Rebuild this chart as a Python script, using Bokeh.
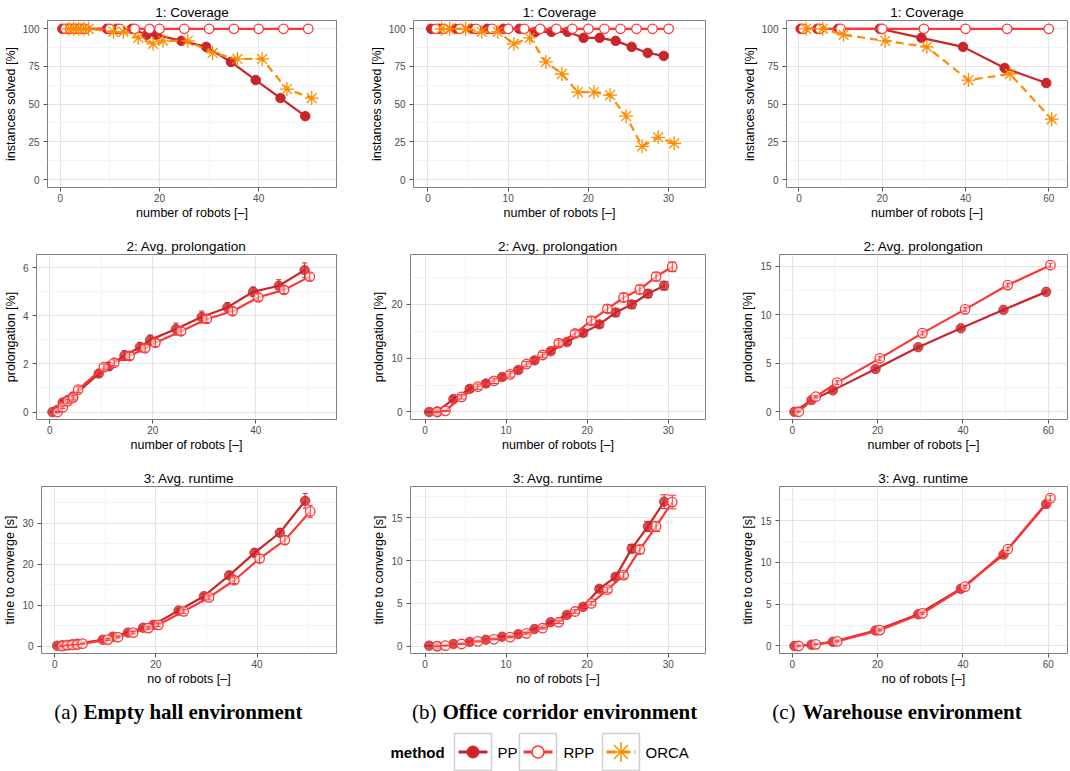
import numpy as np
from bokeh.plotting import figure
from bokeh.layouts import row, column
from bokeh.models import Range1d, FixedTicker
from bokeh.core.properties import value
from bokeh.embed import file_html
from bokeh.resources import INLINE

# ---------------- data ----------------
methods = ["PP", "RPP", "ORCA"]

# Empty hall
hall_n = [1, 2, 3, 4, 5, 10, 12, 15, 18, 20, 25, 30, 35, 40, 45, 50]
hall_cov_pp = [100, 100, 100, 100, 100, 100, 100, 100, 96, 96, 92, 88, 78, 66, 54, 42]
hall_cov_rpp = [100, 100, 100, 100, 100, 100, 100, 100, 100, 100, 100, 100, 100, 100, 100, 100]
hall_cov_orca = [100, 100, 100, 100, 100, 98, 98, 94, 90, 92, 92, 84, 80, 80, 60, 54]
hall_pro_pp = [0.0, 0.1, 0.4, 0.5, 0.65, 1.6, 1.9, 2.35, 2.7, 3.0, 3.45, 3.95, 4.35, 5.0, 5.25, 5.9]
hall_pro_pp_err = [0.02, 0.05, 0.08, 0.1, 0.12, 0.12, 0.15, 0.2, 0.2, 0.2, 0.25, 0.25, 0.2, 0.2, 0.25, 0.3]
hall_pro_rpp = [0.0, 0.2, 0.45, 0.6, 0.93, 1.87, 2.05, 2.33, 2.65, 2.88, 3.36, 3.87, 4.19, 4.77, 5.08, 5.63]
hall_pro_rpp_err = [0.02, 0.05, 0.08, 0.1, 0.12, 0.12, 0.12, 0.15, 0.15, 0.15, 0.15, 0.15, 0.15, 0.15, 0.15, 0.15]
hall_rt_pp = [0.1, 0.2, 0.3, 0.45, 0.6, 1.56, 2.3, 3.3, 4.5, 5.2, 8.7, 12.2, 17.3, 22.8, 27.7, 35.5]
hall_rt_pp_err = [0.05, 0.05, 0.05, 0.05, 0.1, 0.2, 0.2, 0.3, 0.3, 0.4, 0.5, 0.6, 0.8, 1.0, 1.0, 1.8]
hall_rt_rpp = [0.0, 0.2, 0.3, 0.4, 0.6, 1.6, 2.2, 3.3, 4.4, 5.2, 8.5, 11.9, 16.1, 21.4, 25.9, 32.9]
hall_rt_rpp_err = [0.05, 0.05, 0.05, 0.05, 0.1, 0.2, 0.2, 0.3, 0.3, 0.4, 0.5, 0.6, 0.8, 1.0, 1.0, 1.5]

# Office corridor
off_n = [1, 2, 4, 6, 8, 10, 12, 14, 16, 18, 20, 22, 24, 26, 28, 30]
off_cov_pp = [100, 100, 100, 100, 100, 100, 100, 98, 98, 98, 94, 94, 92, 88, 84, 82]
off_cov_rpp = [100, 100, 100, 100, 100, 100, 100, 100, 100, 100, 100, 100, 100, 100, 100, 100]
off_cov_orca = [100, 100, 100, 98, 98, 90, 94, 78, 70, 58, 58, 56, 42, 22, 28, 24]
off_pro_pp = [0.0, 0.1, 2.4, 4.3, 5.3, 6.5, 7.8, 9.6, 11.3, 13.0, 14.7, 16.3, 18.5, 20.0, 22.0, 23.5]
off_pro_pp_err = [0.05, 0.1, 0.4, 0.5, 0.5, 0.5, 0.5, 0.5, 0.5, 0.5, 0.6, 0.6, 0.7, 0.7, 0.7, 0.8]
off_pro_rpp = [0.0, 0.2, 2.8, 4.7, 5.8, 7.0, 8.9, 10.6, 12.8, 14.6, 17.0, 19.2, 21.3, 22.8, 25.2, 27.0]
off_pro_rpp_err = [0.05, 0.1, 0.4, 0.5, 0.5, 0.5, 0.5, 0.5, 0.6, 0.6, 0.7, 0.7, 0.8, 0.8, 0.8, 0.9]
off_rt_pp = [0.05, 0.0, 0.25, 0.5, 0.75, 1.1, 1.4, 2.0, 2.8, 3.65, 4.6, 6.7, 8.1, 11.4, 14.0, 16.9]
off_rt_pp_err = [0.02, 0.02, 0.03, 0.05, 0.05, 0.08, 0.1, 0.1, 0.15, 0.2, 0.2, 0.3, 0.35, 0.5, 0.6, 0.8]
off_rt_rpp = [0.0, 0.05, 0.25, 0.55, 0.8, 1.05, 1.5, 2.1, 2.8, 4.05, 5.0, 6.6, 8.3, 11.3, 14.0, 16.85]
off_rt_rpp_err = [0.02, 0.02, 0.03, 0.05, 0.05, 0.08, 0.1, 0.1, 0.15, 0.2, 0.2, 0.3, 0.35, 0.5, 0.6, 0.8]

# Warehouse
wh_n = [1, 5, 10, 20, 30, 40, 50, 60]
wh_cov_pp = [100, 100, 100, 100, 94, 88, 74, 64]
wh_cov_rpp = [100, 100, 100, 100, 100, 100, 100, 100]
wh_cov_orca = [100, 100, 96, 92, 88, 66, 70, 40]
wh_pro_pp = [0.0, 1.2, 2.2, 4.4, 6.65, 8.6, 10.5, 12.35]
wh_pro_pp_err = [0.02, 0.1, 0.15, 0.15, 0.15, 0.15, 0.15, 0.15]
wh_pro_rpp = [0.0, 1.55, 3.0, 5.5, 8.1, 10.55, 13.05, 15.1]
wh_pro_rpp_err = [0.02, 0.1, 0.2, 0.2, 0.2, 0.2, 0.2, 0.2]
wh_rt_pp = [0.0, 0.15, 0.5, 1.85, 3.8, 6.85, 10.95, 17.0]
wh_rt_pp_err = [0.01, 0.02, 0.05, 0.1, 0.1, 0.15, 0.2, 0.3]
wh_rt_rpp = [0.0, 0.2, 0.55, 1.9, 3.9, 7.1, 11.6, 17.7]
wh_rt_rpp_err = [0.01, 0.02, 0.05, 0.1, 0.1, 0.15, 0.2, 0.3]

captions = [("(a)", "Empty hall environment"), ("(b)", "Office corridor environment"),
            ("(c)", "Warehouse environment")]

# ---------------- style ----------------
PP_C = "#c9262c"
RPP_C = "#ff3535"
ORCA_C = "#ff8c00"
FONT = "Liberation Sans"
SERIF = "Liberation Serif"
BORDER = "#7f7f7f"


def base_fig(width, height, left, right, top, bottom, xr, yr, xt, xmt, yt, ymt,
             title, xlabel, ylabel):
    p = figure(width=width, height=height, x_range=Range1d(*xr), y_range=Range1d(*yr),
               output_backend="svg", toolbar_location=None, title=title,
               min_border_left=left, min_border_right=right,
               min_border_top=top, min_border_bottom=bottom)
    p.background_fill_color = "white"
    p.border_fill_color = "white"
    p.outline_line_color = BORDER
    p.outline_line_width = 1
    p.title.align = "center"
    p.title.text_font = FONT
    p.title.text_font_size = "13.5px"
    p.title.text_font_style = "normal"
    p.title.text_color = "black"
    p.title.standoff = 2
    xtick = FixedTicker(ticks=xt, minor_ticks=xmt)
    ytick = FixedTicker(ticks=yt, minor_ticks=ymt)
    p.xaxis.ticker = xtick
    p.yaxis.ticker = ytick
    p.xgrid.ticker = xtick
    p.ygrid.ticker = ytick
    for g in (p.xgrid, p.ygrid):
        g.grid_line_color = "#e4e4e4"
        g.grid_line_width = 1
        g.minor_grid_line_color = "#f4f4f4"
        g.minor_grid_line_width = 1
    for ax in (p.xaxis, p.yaxis):
        ax.axis_line_color = None
        ax.major_tick_line_color = "#555555"
        ax.major_tick_in = 0
        ax.major_tick_out = 4
        ax.minor_tick_line_color = None
        ax.major_label_text_font = FONT
        ax.major_label_text_font_size = "10px"
        ax.major_label_text_color = "#4d4d4d"
        ax.axis_label_text_font = FONT
        ax.axis_label_text_font_size = "12.5px"
        ax.axis_label_text_font_style = "normal"
        ax.axis_label_text_color = "black"
    p.xaxis.major_label_standoff = 2
    p.xaxis.axis_label_standoff = 1
    p.yaxis.major_label_standoff = 4
    p.yaxis.axis_label_standoff = 2
    p.xaxis.axis_label = xlabel
    p.yaxis.axis_label = ylabel
    return p


def coverage(p, n, pp, rpp, orca):
    n = np.array(n, dtype=float)
    p.line(n - 0.6, pp, line_color=PP_C, line_width=2.2)
    p.scatter(n - 0.6, pp, marker="circle", size=9.5, fill_color=PP_C, line_color=PP_C)
    p.line(n, rpp, line_color=RPP_C, line_width=2.2)
    p.scatter(n, rpp, marker="circle", size=9.5, fill_color="white", line_color=RPP_C, line_width=1.3)
    p.line(n + 0.7, orca, line_color=ORCA_C, line_width=2.2, line_dash="8 5")
    p.scatter(n + 0.7, orca, marker="asterisk", size=14, line_color=ORCA_C, line_width=1.3)


def with_err(p, n, pp, pp_e, rpp, rpp_e):
    n = np.array(n, dtype=float)
    for off, y, e, c, filled in ((-0.5, pp, pp_e, PP_C, True), (0.5, rpp, rpp_e, RPP_C, False)):
        x = n + off
        y = np.array(y, dtype=float)
        e = np.array(e, dtype=float)
        p.line(x, y, line_color=c, line_width=2.2)
        if filled:
            p.scatter(x, y, marker="circle", size=9.5, fill_color=c, fill_alpha=0.8,
                      line_color=c, line_alpha=0.8)
        else:
            p.scatter(x, y, marker="circle", size=9.5, fill_color="white", fill_alpha=0.6,
                      line_color=c, line_width=1.3)
        p.segment(x, y - e, x, y + e, line_color=c, line_width=1)
        p.segment(x - 0.5, y + e, x + 0.5, y + e, line_color=c, line_width=1)
        p.segment(x - 0.5, y - e, x + 0.5, y - e, line_color=c, line_width=1)


XL1 = "number of robots [\u2013]"
XL3 = "no of robots [\u2013]"
cov_y = (-5.3, 105.5)
cov_t = ([0, 25, 50, 75, 100], [12.5, 37.5, 62.5, 87.5])
hall_x = (-2.6, 55.7); hall_xt = ([0, 20, 40], [10, 30, 50])
off_x = (-1.8, 34.6); off_xt = ([0, 10, 20, 30], [5, 15, 25])
wh_x = (-3.0, 64.5); wh_xt = ([0, 20, 40, 60], [10, 30, 50])

# Row 1: coverage
f11 = base_fig(345, 232, 47, 9, 20, 45, hall_x, cov_y, *hall_xt, *cov_t,
               "1: Coverage", XL1, "instances solved [%]")
coverage(f11, hall_n, hall_cov_pp, hall_cov_rpp, hall_cov_orca)
f12 = base_fig(367, 232, 68, 7, 20, 45, off_x, cov_y, *off_xt, *cov_t,
               "1: Coverage", XL1, "instances solved [%]")
coverage(f12, off_n, off_cov_pp, off_cov_rpp, off_cov_orca)
f13 = base_fig(358, 232, 74, 3, 20, 45, wh_x, cov_y, *wh_xt, *cov_t,
               "1: Coverage", XL1, "instances solved [%]")
coverage(f13, wh_n, wh_cov_pp, wh_cov_rpp, wh_cov_orca)

# Row 2: prolongation
f21 = base_fig(345, 233, 35, 9, 22, 46, hall_x, (-0.31, 6.55), *hall_xt,
               [0, 2, 4, 6], [1, 3, 5], "2: Avg. prolongation", XL1, "prolongation [%]")
with_err(f21, hall_n, hall_pro_pp, hall_pro_pp_err, hall_pro_rpp, hall_pro_rpp_err)
f22 = base_fig(367, 233, 65, 7, 22, 46, off_x, (-1.4, 29.3), *off_xt,
               [0, 10, 20], [5, 15, 25], "2: Avg. prolongation", XL1, "prolongation [%]")
with_err(f22, off_n, off_pro_pp, off_pro_pp_err, off_pro_rpp, off_pro_rpp_err)
f23 = base_fig(358, 233, 67, 3, 22, 46, wh_x, (-0.8, 16.2), *wh_xt,
               [0, 5, 10, 15], [2.5, 7.5, 12.5], "2: Avg. prolongation", XL1, "prolongation [%]")
with_err(f23, wh_n, wh_pro_pp, wh_pro_pp_err, wh_pro_rpp, wh_pro_rpp_err)

# Row 3: runtime
f31 = base_fig(345, 225, 41, 9, 21, 37, hall_x, (-1.8, 39.0), *hall_xt,
               [0, 10, 20, 30], [5, 15, 25, 35], "3: Avg. runtime", XL3, "time to converge [s]")
with_err(f31, hall_n, hall_rt_pp, hall_rt_pp_err, hall_rt_rpp, hall_rt_rpp_err)
f32 = base_fig(367, 225, 65, 7, 21, 37, off_x, (-0.86, 18.67), *off_xt,
               [0, 5, 10, 15], [2.5, 7.5, 12.5, 17.5], "3: Avg. runtime", XL3, "time to converge [s]")
with_err(f32, off_n, off_rt_pp, off_rt_pp_err, off_rt_rpp, off_rt_rpp_err)
f33 = base_fig(358, 225, 67, 3, 21, 37, wh_x, (-0.9, 19.1), *wh_xt,
               [0, 5, 10, 15], [2.5, 7.5, 12.5, 17.5], "3: Avg. runtime", XL3, "time to converge [s]")
with_err(f33, wh_n, wh_rt_pp, wh_rt_pp_err, wh_rt_rpp, wh_rt_rpp_err)


def blank(width, height):
    p = figure(width=width, height=height, x_range=Range1d(0, width), y_range=Range1d(0, height),
               output_backend="svg", toolbar_location=None,
               min_border_left=0, min_border_right=0, min_border_top=0, min_border_bottom=0)
    p.axis.visible = False
    p.grid.visible = False
    p.outline_line_color = None
    p.background_fill_color = "white"
    p.border_fill_color = "white"
    return p


# captions
cap = blank(1070, 40)
cap_pre_x = [77, 436, 795]
cap_main_x = [83, 442, 802]
cap.text(x=cap_pre_x, y=[19, 19, 19], text=[c[0] for c in captions], text_align="right",
         text_baseline="middle", text_font=value(SERIF), text_font_size="21px", text_color="black")
cap.text(x=cap_main_x, y=[19, 19, 19], text=[c[1] for c in captions], text_align="left",
         text_baseline="middle", text_font=value(SERIF), text_font_size="21px",
         text_font_style="bold", text_color="black")

# legend
leg = blank(1070, 41)
ly = 19.5
leg.text(x=[390], y=[ly], text=["method"], text_baseline="middle", text_font=value(FONT),
         text_font_size="15px", text_font_style="bold", text_color="black")
box_x = [454, 519, 602]
lab_x = [497, 563, 645]
key_cx = [b + 18.5 for b in box_x]
leg.rect(x=key_cx, y=[ly] * 3, width=37, height=37, fill_color="white",
         line_color="#cfcfcf", line_width=1.5)
leg.segment(x0=[box_x[0] + 4], y0=[ly], x1=[box_x[0] + 33], y1=[ly], line_color=PP_C, line_width=3)
leg.scatter(x=[key_cx[0]], y=[ly], marker="circle", size=12, fill_color=PP_C, line_color=PP_C)
leg.segment(x0=[box_x[1] + 4], y0=[ly], x1=[box_x[1] + 33], y1=[ly], line_color=RPP_C, line_width=3)
leg.scatter(x=[key_cx[1]], y=[ly], marker="circle", size=12, fill_color="white", line_color=RPP_C,
            line_width=1.5)
leg.segment(x0=[box_x[2] + 4], y0=[ly], x1=[box_x[2] + 33], y1=[ly], line_color=ORCA_C,
            line_width=3, line_dash="9 5")
leg.scatter(x=[key_cx[2]], y=[ly], marker="asterisk", size=20, line_color=ORCA_C, line_width=1.5)
leg.text(x=lab_x, y=[ly] * 3, text=methods, text_baseline="middle", text_font=value(FONT),
         text_font_size="15px", text_color="black")

layout = column(row(f11, f12, f13), row(f21, f22, f23), row(f31, f32, f33), cap, leg)
open("out.html", "w").write(file_html(layout, INLINE))
